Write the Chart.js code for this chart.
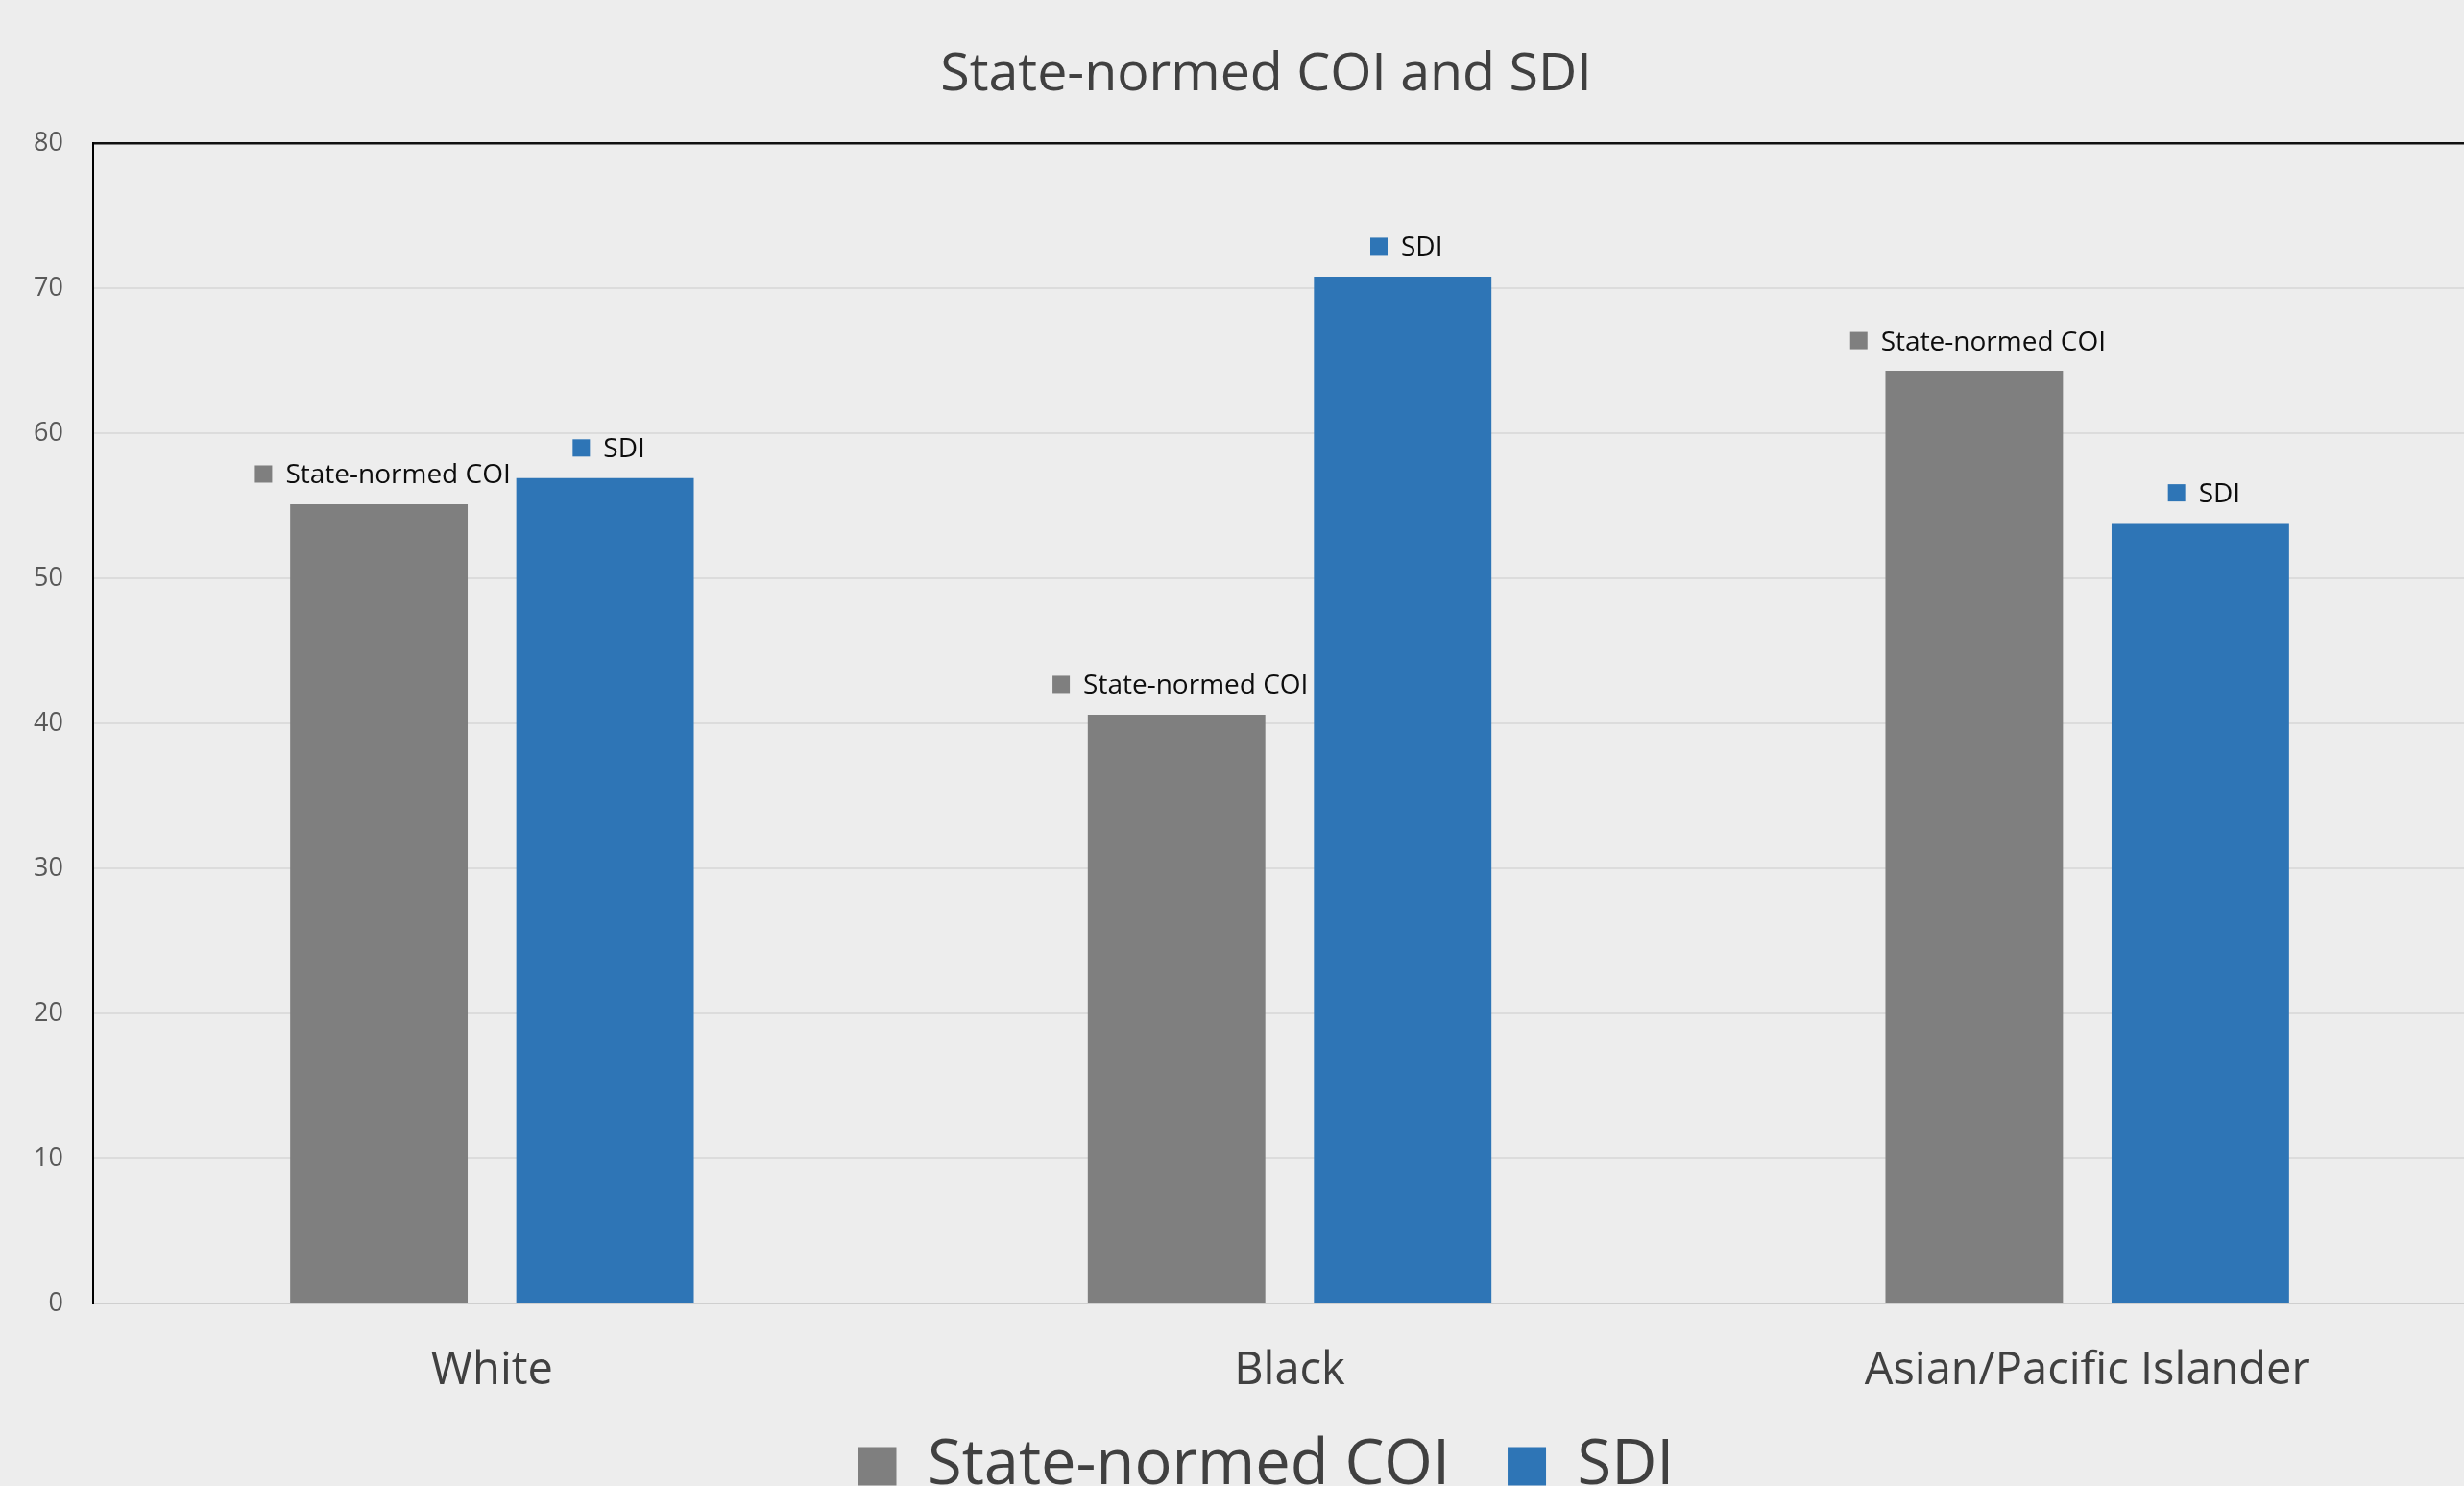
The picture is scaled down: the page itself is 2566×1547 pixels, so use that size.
<!DOCTYPE html>
<html>
<head>
<meta charset="utf-8">
<script src="https://cdn.jsdelivr.net/npm/chart.js@4/dist/chart.umd.min.js"></script>
<style>
  html, body { margin: 0; padding: 0; background: #ededed; overflow: hidden; }
  #wrap { position: relative; width: 2589px; height: 1569px; }
</style>
</head>
<body>
<div id="wrap"><canvas id="c"></canvas></div>
<script>
const categories = ['White', 'Black', 'Asian/Pacific Islander'];
const seriesNames = ['State-normed COI', 'SDI'];
const coiValues = [55.1, 40.6, 64.3];
const sdiValues = [56.9, 70.8, 53.8];
const yTicks = [0, 10, 20, 30, 40, 50, 60, 70, 80];
const seriesColors = ['#7f7f7f', '#2e75b6'];

const FONT = "'Open Sans', 'Noto Sans', sans-serif";
const TICK_FONT_SIZE = 27;

const barLabelPlugin = {
  id: 'barLabels',
  afterDatasetsDraw(chart) {
    const ctx = chart.ctx;
    ctx.save();
    ctx.font = '28px ' + FONT;
    ctx.textBaseline = 'alphabetic';
    ctx.textAlign = 'left';
    chart.data.datasets.forEach((ds, di) => {
      const meta = chart.getDatasetMeta(di);
      meta.data.forEach((bar) => {
        const text = ds.label;
        const tw = ctx.measureText(text).width;
        const box = 18, gap = 14;
        const total = box + gap + tw;
        const left = bar.x - total / 2 + 4;
        const cy = bar.y - 31.5;
        ctx.fillStyle = ds.backgroundColor;
        ctx.fillRect(left, cy - box / 2, box, box);
        ctx.fillStyle = '#0d0d0d';
        ctx.fillText(text, left + box + gap, cy + 10);
      });
    });
    ctx.restore();
  }
};

// width of the widest y tick label, used to place mirrored labels left of the axis
const measureCtx = document.createElement('canvas').getContext('2d');
measureCtx.font = TICK_FONT_SIZE + 'px ' + FONT;
const widestTick = Math.max(...yTicks.map(v => measureCtx.measureText(String(v)).width));

new Chart(document.getElementById('c'), {
  type: 'bar',
  data: {
    labels: categories,
    datasets: [
      { label: seriesNames[0], data: coiValues, backgroundColor: seriesColors[0],
        categoryPercentage: 0.567, barPercentage: 0.785 },
      { label: seriesNames[1], data: sdiValues, backgroundColor: seriesColors[1],
        categoryPercentage: 0.567, barPercentage: 0.785 }
    ]
  },
  options: {
    responsive: true,
    maintainAspectRatio: false,
    animation: false,
    layout: { padding: { left: 48, right: 0, top: 0, bottom: 0 } },
    plugins: {
      title: {
        display: true,
        text: 'State-normed COI and SDI',
        color: '#404040',
        font: { family: FONT, size: 55.5, weight: 'normal', lineHeight: 1.2 },
        padding: { top: 45, bottom: 37.4 }
      },
      legend: {
        position: 'bottom',
        labels: {
          color: '#404040',
          font: { family: FONT, size: 65 },
          boxWidth: 40,
          boxHeight: 40,
          padding: 60
        }
      },
      tooltip: { enabled: false }
    },
    scales: {
      x: {
        grid: { display: false, drawTicks: false },
        border: { display: true, color: '#cfcfcf', width: 2 },
        ticks: { color: '#404040', font: { family: FONT, size: 47 }, mirror: true, padding: -98.7, maxRotation: 0 },
        afterFit(scale) { scale.height = 77; }
      },
      y: {
        min: yTicks[0],
        max: yTicks[yTicks.length - 1],
        afterBuildTicks(scale) { scale.ticks = yTicks.map(v => ({ value: v })); },
        ticks: {
          color: '#595959', font: { family: FONT, size: TICK_FONT_SIZE },
          mirror: true, crossAlign: 'far', padding: -(31 + widestTick)
        },
        grid: {
          drawTicks: false,
          color: (c) => c.tick && c.tick.value === 80 ? '#111111' : (c.tick && c.tick.value === 0 ? '#cfcfcf' : '#dcdcdc'),
          lineWidth: (c) => c.tick && c.tick.value === 80 ? 2.5 : 2
        },
        border: { display: true, color: '#000000', width: 2 },
        afterFit(scale) { scale.width = 49; }
      }
    }
  },
  plugins: [barLabelPlugin]
});
</script>
</body>
</html>
